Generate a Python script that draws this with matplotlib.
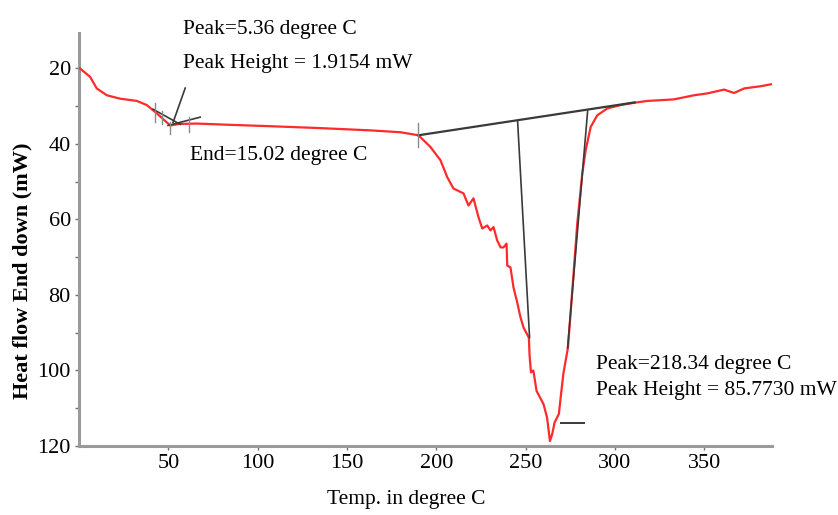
import matplotlib
matplotlib.use("Agg")
import matplotlib.pyplot as plt

# DSC trace (temperature in degree C, heat flow in mW)
temp = [0.5, 6.1, 9.9, 15.5, 22.9, 32.3, 37.9, 43.5, 51.0, 56.0, 65.9, 82.7,
        107.0, 135.0, 163.0, 180.0, 190.0, 196.7, 202.3, 206.1, 209.6, 215.2,
        218.0, 220.8, 223.6, 225.7, 228.5, 230.3, 232.0, 234.1, 236.0, 237.6,
        239.3, 239.7, 241.5, 243.2, 245.3, 247.1, 248.8, 251.8, 252.2, 253.0,
        254.3, 255.0, 256.1, 260.0, 262.0, 262.9, 263.6, 264.9, 266.2, 268.6,
        269.6, 271.1, 272.4, 273.7, 276.1, 278.9, 281.7, 283.6, 286.4, 290.1,
        295.7, 303.2, 310.6, 318.2, 332.9, 344.3, 351.8, 361.1, 366.7, 372.3,
        381.7, 387.3]
heat = [20.0, 22.2, 25.3, 27.1, 28.0, 28.6, 29.7, 31.9, 35.1, 34.7, 34.6, 34.9,
        35.3, 35.8, 36.4, 36.9, 37.7, 40.8, 44.3, 48.8, 51.8, 53.1,
        56.3, 54.4, 59.4, 62.4, 61.6, 62.9, 62.0, 65.6, 67.4, 67.4,
        66.4, 72.2, 72.7, 78.0, 82.0, 85.9, 88.6, 91.3, 96.0, 100.5,
        100.0, 102.0, 105.4, 108.9, 112.5, 116.0, 118.7, 116.8, 113.8, 111.5,
        107.2, 100.9, 97.4, 93.9, 78.9, 61.1, 47.9, 41.7, 35.5, 32.4,
        30.6, 29.7, 29.1, 28.6, 28.2, 27.1, 26.6, 25.6, 26.5, 25.3,
        24.7, 24.2]

# construction lines of the analysis software
baseline_t = [190.0, 311.0]
baseline_h = [37.7, 29.0]
left_drop_t = [245.5, 252.2]
left_drop_h = [34.0, 91.3]
right_drop_t = [284.7, 273.5]
right_drop_h = [31.3, 94.0]
peak_mark_t = [269.6, 282.6]
peak_mark_h = [113.8, 113.8]

small_peak_lines = [
    ([41.4, 56.6], [30.8, 34.8]),
    ([49.8, 67.8], [35.1, 32.9]),
    ([59.4, 52.6], [25.2, 34.3]),
]
small_peak_ticks = [(42.5, 29.1, 34.1), (46.5, 31.4, 34.6),
                    (51.0, 34.2, 37.3), (61.6, 32.9, 36.9), (190.0, 34.5, 40.9)]

xticks = [50, 100, 150, 200, 250, 300, 350]
yticks = [20, 40, 60, 80, 100, 120]

plt.rcParams['font.family'] = ['Liberation Serif', 'DejaVu Serif']

fig = plt.figure(figsize=(8.38, 5.15), dpi=100)
ax = fig.add_axes([0.0944, 0.134, 0.827, 0.802])

ax.plot(temp, heat, color='#ff2a2a', lw=1.6, zorder=3)

dark = '#3a3a3a'
ax.plot(baseline_t, baseline_h, color=dark, lw=1.6, zorder=4)
ax.plot(left_drop_t, left_drop_h, color=dark, lw=1.2, zorder=4)
ax.plot(right_drop_t, right_drop_h, color=dark, lw=1.2, zorder=4)
ax.plot(peak_mark_t, peak_mark_h, color=dark, lw=1.4, zorder=4)
for xs, ys in small_peak_lines:
    ax.plot(xs, ys, color=dark, lw=1.2, zorder=4)
for x, y0, y1 in small_peak_ticks:
    ax.plot([x, x], [y0, y1], color='#8a8a8a', lw=1.0, zorder=4)

ax.text(58.2, 9.8, 'Peak=5.36 degree C', fontsize=15.5, va='center')
ax.text(58.2, 18.7, 'Peak Height = 1.9154 mW', fontsize=15.5, va='center')
ax.text(62.2, 43.0, 'End=15.02 degree C', fontsize=15.5, va='center')
ax.text(289.2, 98.3, 'Peak=218.34 degree C', fontsize=15.5, va='center')
ax.text(289.2, 105.4, 'Peak Height = 85.7730 mW', fontsize=15.5, va='center')

ax.set_xlim(0, 388)
ax.set_ylim(120, 10.6)
ax.set_xticks(xticks)
ax.set_yticks(yticks)
ax.set_yticks([30, 50, 70, 90, 110], minor=True)

for side in ['top', 'right']:
    ax.spines[side].set_visible(False)
for side in ['left', 'bottom']:
    ax.spines[side].set_color('#9a9a9a')
    ax.spines[side].set_linewidth(2.2)

ax.tick_params(axis='both', which='both', direction='out', color='#707070',
               length=3, width=1, labelsize=16, pad=3)

ax.set_xlabel('Temp. in degree C', fontsize=15.5)
ax.xaxis.set_label_coords(0.472, -0.107)
ax.set_ylabel('Heat flow End down (mW)', fontsize=16, fontweight='bold', va='center')
ax.yaxis.set_label_coords(-0.081, 0.424)

fig.savefig('out.png', dpi=100)
